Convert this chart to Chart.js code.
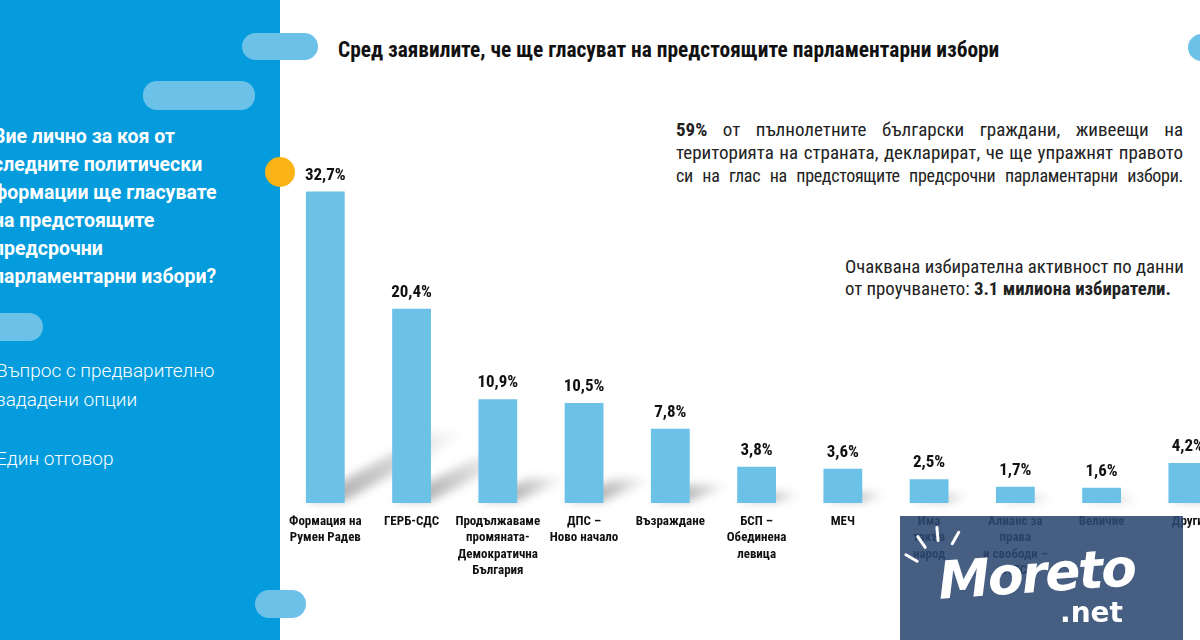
<!DOCTYPE html>
<html lang="bg">
<head>
<meta charset="utf-8">
<title>Сред заявилите, че ще гласуват</title>
<script src="https://cdn.jsdelivr.net/npm/chart.js@4.4.1/dist/chart.umd.min.js"></script>
<style>
  html, body { margin: 0; padding: 0; width: 1200px; height: 640px; overflow: hidden; background: #fff; }
  body { position: relative; font-family: Roboto, "Noto Sans", sans-serif; }
  .panel { position: absolute; left: 0; top: 0; width: 280px; height: 640px; background: #049cdd; }
  .pill { position: absolute; background: #6cc1e8; border-radius: 14px; }
  .dot { position: absolute; left: 265px; top: 157px; width: 30px; height: 30px; border-radius: 50%; background: #fbb316; }
  .question { position: absolute; left: -7px; top: 123px; color: #fff; font-weight: 700; font-size: 19.5px; line-height: 28px; white-space: nowrap; }
  .note { position: absolute; left: -4px; color: #fff; font-weight: 300; font-size: 19px; line-height: 29px; white-space: nowrap; }
  .cond { font-family: "Liberation Sans Narrow", "Roboto Condensed", "DejaVu Sans Condensed", Roboto, sans-serif; }
  .title { position: absolute; left: 338px; top: 37px; font-size: 21.4px; font-weight: 700; color: #111; white-space: nowrap; }
  .para { position: absolute; left: 676px; top: 118px; width: 507px; font-size: 19px; line-height: 23px; color: #222; }
  .para div { white-space: nowrap; text-align: justify; text-align-last: justify; }
  .para .tight { font-size: 18px; letter-spacing: -0.3px; word-spacing: -2px; }
  .turnout { position: absolute; left: 845px; top: 256px; font-size: 18.8px; line-height: 22px; color: #222; white-space: nowrap; }
  #wrap { position: absolute; left: 279px; top: 150px; width: 952px; height: 450px; }
  .mark { position: absolute; left: 900px; top: 516px; width: 283px; height: 124px; background: rgba(44, 72, 112, 0.88); overflow: hidden; }
  .mark .m1 { position: absolute; left: 38px; top: 28px; color: #fff; font: italic 700 52px "DejaVu Sans", sans-serif; letter-spacing: -2px; transform: rotate(-4deg); }
  .mark .m2 { position: absolute; left: 160px; top: 80px; color: #fff; font: 700 28px "DejaVu Sans", sans-serif; }
  .mark .ray { position: absolute; width: 3px; height: 16px; background: #fff; border-radius: 2px; }
</style>
</head>
<body>
<div class="panel"></div>
<div class="question">Вие лично за коя от<br>следните политически<br>формации ще гласувате<br>на предстоящите<br>предсрочни<br>парламентарни избори?</div>
<div class="note" style="top:356px">Въпрос с предварително<br>зададени опции</div>
<div class="note" style="top:444px">Един отговор</div>

<div class="pill" style="left:242px;top:33px;width:76px;height:27px"></div>
<div class="pill" style="left:143px;top:81px;width:112px;height:29px"></div>
<div class="pill" style="left:-20px;top:313px;width:63px;height:28px"></div>
<div class="pill" style="left:255px;top:590px;width:51px;height:28px"></div>
<div class="pill" style="left:1188px;top:34px;width:40px;height:27px"></div>
<div class="dot"></div>

<div class="title cond">Сред заявилите, че ще гласуват на предстоящите парламентарни избори</div>
<div class="para cond">
  <div><b>59%</b> от пълнолетните български граждани, живеещи на</div>
  <div>територията на страната, декларират, че ще упражнят правото</div>
  <div class="tight">си на глас на предстоящите предсрочни парламентарни избори.</div>
</div>
<div class="turnout cond">Очаквана избирателна активност по данни<br>от проучването: <b>3.1 милиона избиратели.</b></div>

<div id="wrap"><canvas id="chart" width="952" height="450"></canvas></div>

<div class="mark">
  <div class="ray" style="left:10px;top:34px;transform:rotate(-60deg)"></div>
  <div class="ray" style="left:20px;top:18px;transform:rotate(-35deg)"></div>
  <div class="ray" style="left:36px;top:10px;transform:rotate(-5deg)"></div>
  <div class="ray" style="left:54px;top:14px;transform:rotate(30deg)"></div>
  <div class="m1">Moreto</div><div class="m2">.net</div>
</div>

<script>
// Data
const categories = [
    ["Формация на", "Румен Радев"],
    ["ГЕРБ-СДС"],
    ["Продължаваме", "промяната-", "Демократична", "България"],
    ["ДПС –", "Ново начало"],
    ["Възраждане"],
    ["БСП –", "Обединена", "левица"],
    ["МЕЧ"],
    ["Има", "такъв", "народ"],
    ["Алианс за", "права", "и свободи –", "АПС"],
    ["Величие"],
    ["Други"]
];
const values = [32.7, 20.4, 10.9, 10.5, 7.8, 3.8, 3.6, 2.5, 1.7, 1.6, 4.2];
const yMax = 36;

const CONDENSED = "'Liberation Sans Narrow', 'Roboto Condensed', 'DejaVu Sans Condensed', Roboto, sans-serif";

function fmt(v) {
    return v.toFixed(1).replace(".", ",") + "%";
}

// soft diagonal shadow behind every bar
const barShadow = {
    id: "barShadow",
    beforeDatasetsDraw(chart) {
        const ctx = chart.ctx;
        const meta = chart.getDatasetMeta(0);
        ctx.save();
        ctx.filter = "blur(5px)";
        meta.data.forEach(bar => {
            const h = bar.base - bar.y;
            const left = bar.x - bar.width / 2;
            const right = bar.x + bar.width / 2;
            const dx = h * 0.35 + 15;
            const dy = -h * 0.22;
            const g = ctx.createLinearGradient(right, bar.base, right + dx, bar.base + dy);
            g.addColorStop(0, "rgba(0,0,0,0.30)");
            g.addColorStop(1, "rgba(0,0,0,0)");
            ctx.fillStyle = g;
            ctx.beginPath();
            ctx.moveTo(left, bar.base - 2);
            ctx.lineTo(right, bar.base - 2);
            ctx.lineTo(right + dx, bar.base - 2 + dy);
            ctx.lineTo(left + dx, bar.base - 2 + dy);
            ctx.closePath();
            ctx.fill();
        });
        ctx.restore();
    }
};

// value labels above the bars
const valueLabels = {
    id: "valueLabels",
    afterDatasetsDraw(chart) {
        const ctx = chart.ctx;
        const meta = chart.getDatasetMeta(0);
        ctx.save();
        ctx.font = "bold 17px " + CONDENSED;
        ctx.fillStyle = "#111";
        ctx.textAlign = "center";
        ctx.textBaseline = "middle";
        meta.data.forEach((bar, i) => {
            ctx.fillText(fmt(values[i]), bar.x, bar.y - 16);
        });
        ctx.restore();
    }
};

const ctx = document.getElementById("chart");
const Graph = new Chart(ctx, {
    type: "bar",
    data: {
        labels: categories,
        datasets: [{
            data: values,
            backgroundColor: "#6cc1e6",
            barPercentage: 0.45,
            categoryPercentage: 1
        }]
    },
    options: {
        responsive: false,
        devicePixelRatio: 1,
        animation: false,
        layout: { padding: { top: 10, left: 0, right: 0, bottom: 0 } },
        plugins: { legend: { display: false }, tooltip: { enabled: false } },
        scales: {
            x: {
                grid: { display: false, drawTicks: false },
                border: { display: false },
                ticks: {
                    color: "#111",
                    font: { family: CONDENSED, size: 13, weight: "bold", lineHeight: 1.27 },
                    padding: 10,
                    maxRotation: 0,
                    autoSkip: false
                },
                afterFit(scale) { scale.height = 97; }
            },
            y: {
                display: false,
                min: 0,
                max: yMax
            }
        }
    },
    plugins: [barShadow, valueLabels]
});
</script>
</body>
</html>
